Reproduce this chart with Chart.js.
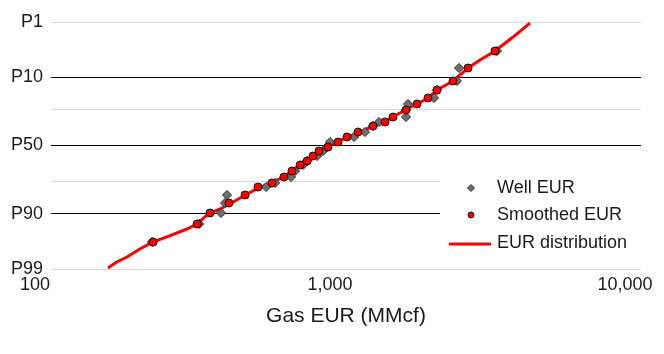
<!DOCTYPE html>
<html>
<head>
<meta charset="utf-8">
<script src="https://cdn.jsdelivr.net/npm/chart.js@4.4.0/dist/chart.umd.min.js"></script>
<style>
  html, body { margin: 0; padding: 0; background: #fff; }
  #wrap { width: 664px; height: 354px; }
</style>
</head>
<body>
<div id="wrap"><canvas id="eurChart" width="664" height="354"></canvas></div>
<script>
// y values are normal scores (probit); P1 at the top, P99 at the bottom
const yTickZ = [2.3263, 1.2816, 0.6745, 0, -0.6745, -1.2816, -2.3263];
const yTickLabels = ['P1', 'P10', '', 'P50', '', 'P90', 'P99'];
const xTicks = [100, 1000, 10000];

// EUR distribution (line)
const distEur = [156, 167, 181, 200, 222, 247, 289, 313, 341, 374, 404, 455, 499, 566, 612, 656, 699, 738, 773,
  816, 869, 940, 1008, 1098, 1235, 1356, 1443, 1585, 1741, 1897, 2035, 2305, 2592, 2846, 3200, 3683, 4205];
const distZ = [-2.307, -2.194, -2.100, -1.949, -1.817, -1.723, -1.573, -1.478, -1.290, -1.196, -1.102, -0.932,
  -0.819, -0.687, -0.593, -0.480, -0.367, -0.292, -0.198, -0.104, -0.009, 0.066, 0.160, 0.235, 0.367, 0.443,
  0.537, 0.669, 0.782, 0.895, 1.045, 1.215, 1.460, 1.610, 1.780, 2.043, 2.307];

// plotting positions shared by both point series
const rankZ = [-1.817, -1.478, -1.271, -1.083, -0.932, -0.782, -0.706, -0.593, -0.480, -0.367, -0.292, -0.198,
  -0.104, -0.028, 0.066, 0.160, 0.254, 0.367, 0.443, 0.537, 0.669, 0.782, 0.895, 1.045, 1.215, 1.460, 1.780];
const wellEur = [220, 318, 377, 389, 395, 536, 575, 651, 672, 715, 738, 798, 836, 860, 883, 1065, 1160, 1235,
  1294, 1597, 1597, 1623, 1988, 2035, 2378, 2416, 3250];
const smoothEur = [222, 313, 346, 401, 455, 503, 561, 616, 656, 699, 738, 773, 810, 869, 940, 1008, 1098, 1235,
  1356, 1443, 1597, 1741, 1897, 2035, 2305, 2592, 3200];

const FONT = "'Liberation Sans', Arial, sans-serif";
const TEXT = '#1a1a1a';

const toPts = (xs, ys) => xs.map((x, i) => ({ x: x, y: ys[i] }));

// legend drawn inside the plot, on a white box
const insideLegend = {
    id: 'insideLegend',
    afterDraw(chart) {
        const ctx = chart.ctx;
        const area = chart.chartArea;
        const left = area.right - 201;
        ctx.save();
        ctx.fillStyle = '#fff';
        ctx.fillRect(left, 172, 664 - left, 86);

        const sets = chart.data.datasets;
        const rows = [188, 215, 243];
        const mx = left + 31;
        ctx.font = '18px ' + FONT;
        ctx.textBaseline = 'middle';
        ctx.textAlign = 'left';

        // diamond
        ctx.beginPath();
        ctx.moveTo(mx, rows[0] - 3.5);
        ctx.lineTo(mx + 3.5, rows[0]);
        ctx.lineTo(mx, rows[0] + 3.5);
        ctx.lineTo(mx - 3.5, rows[0]);
        ctx.closePath();
        ctx.fillStyle = sets[1].backgroundColor;
        ctx.fill();
        ctx.lineWidth = 1;
        ctx.strokeStyle = sets[1].borderColor;
        ctx.stroke();

        // circle
        ctx.beginPath();
        ctx.arc(mx, rows[1], 3, 0, Math.PI * 2);
        ctx.fillStyle = sets[0].backgroundColor;
        ctx.fill();
        ctx.strokeStyle = sets[0].borderColor;
        ctx.stroke();

        // line
        ctx.beginPath();
        ctx.moveTo(left + 9, rows[2] + 1);
        ctx.lineTo(left + 51, rows[2] + 1);
        ctx.lineWidth = 3;
        ctx.strokeStyle = sets[2].borderColor;
        ctx.stroke();

        ctx.fillStyle = TEXT;
        ctx.fillText(sets[1].label, left + 57, rows[0]);
        ctx.fillText(sets[0].label, left + 57, rows[1]);
        ctx.fillText(sets[2].label, left + 57, rows[2]);
        ctx.restore();
    }
};

const ctx = document.getElementById('eurChart').getContext('2d');
const eurChart = new Chart(ctx, {
    type: 'scatter',
    data: {
        datasets: [
            {
                label: 'Smoothed EUR',
                data: toPts(smoothEur, rankZ),
                pointStyle: 'circle',
                pointRadius: 4,
                backgroundColor: '#ff0000',
                borderColor: '#111',
                borderWidth: 1,
                order: 1
            },
            {
                label: 'Well EUR',
                data: toPts(wellEur, rankZ),
                pointStyle: 'rectRot',
                pointRadius: 4.6,
                backgroundColor: '#6e6e6e',
                borderColor: '#333',
                borderWidth: 1,
                order: 2
            },
            {
                label: 'EUR distribution',
                data: toPts(distEur, distZ),
                showLine: true,
                pointRadius: 0,
                borderColor: '#ff0000',
                backgroundColor: '#ff0000',
                borderWidth: 3,
                tension: 0,
                order: 3
            }
        ]
    },
    options: {
        responsive: false,
        animation: false,
        layout: { padding: { left: 0, right: 23, top: 22, bottom: 0 } },
        plugins: {
            legend: { display: false },
            tooltip: { enabled: false }
        },
        scales: {
            x: {
                type: 'logarithmic',
                min: 100,
                max: 10000,
                afterBuildTicks: (scale) => { scale.ticks = xTicks.map(v => ({ value: v })); },
                afterFit: (scale) => {
                    scale.height = 85;
                    scale.paddingLeft = 0;
                    scale.paddingRight = 0;
                },
                grid: { display: false, drawTicks: false },
                border: { display: false },
                ticks: {
                    padding: 5,
                    labelOffset: -16,
                    maxRotation: 0,
                    color: TEXT,
                    font: { family: FONT, size: 18 },
                    callback: (v) => Number(v).toLocaleString('en-US')
                },
                title: {
                    display: true,
                    text: 'Gas EUR (MMcf)',
                    color: TEXT,
                    font: { family: FONT, size: 21 },
                    padding: { top: 0, bottom: 25 }
                }
            },
            y: {
                type: 'linear',
                min: -2.3263,
                max: 2.3263,
                afterBuildTicks: (scale) => { scale.ticks = yTickZ.map(v => ({ value: v })); },
                afterFit: (scale) => { scale.width = 51; },
                grid: {
                    drawTicks: false,
                    lineWidth: 1,
                    color: (c) => ['P10', 'P50', 'P90'].includes(yTickLabels[c.index]) ? '#000' : '#d9d9d9'
                },
                border: { display: false },
                ticks: {
                    padding: 8,
                    color: TEXT,
                    font: { family: FONT, size: 18 },
                    callback: (v, i) => yTickLabels[i]
                }
            }
        }
    },
    plugins: [insideLegend]
});
</script>
</body>
</html>
